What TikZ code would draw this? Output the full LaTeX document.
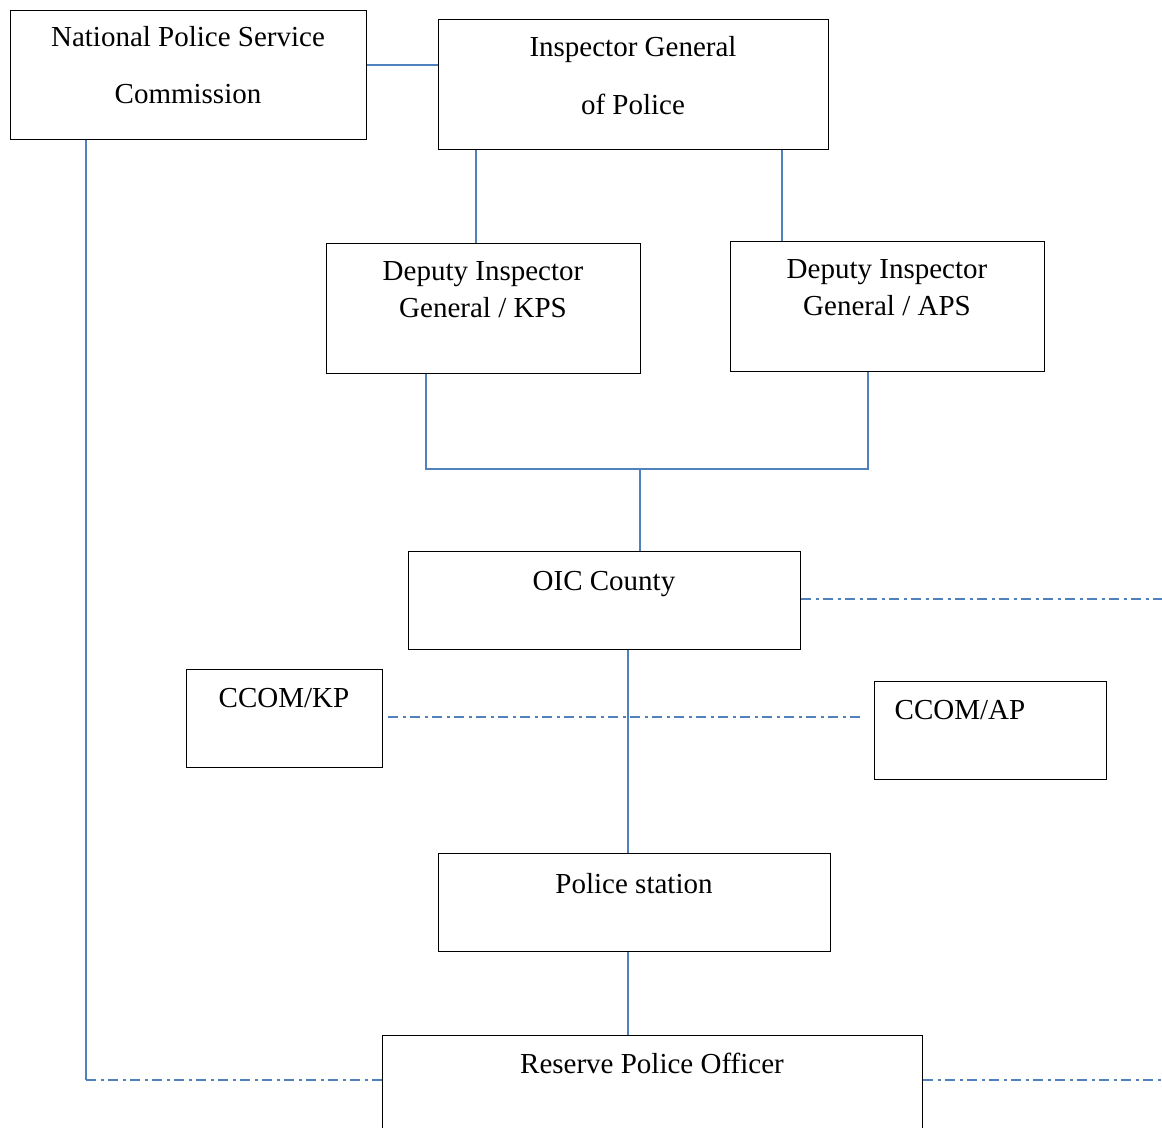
\documentclass[tikz,border=0pt]{standalone}
\usepackage{fontspec}
\setmainfont{Liberation Serif}
\begin{document}
\begin{tikzpicture}[x=0.5pt,y=-0.5pt,
  box/.style={draw=black,line width=0.6pt,fill=none,inner sep=0pt,anchor=north west},
  txt/.style={anchor=base,inner sep=0pt,font=\fontsize{14.5}{17}\selectfont},
  conn/.style={draw={rgb,255:red,79;green,129;blue,189},line width=0.75pt},
  dd/.style={conn,dash pattern=on 5pt off 2.25pt on 1.5pt off 2.25pt}]
\useasboundingbox (0,0) rectangle (1162,1128);
% boxes
\node[box,minimum width=178pt,minimum height=64.5pt] (npsc) at (10,10) {};
\node[box,minimum width=195pt,minimum height=65pt] (igp) at (438,19) {};
\node[box,minimum width=157pt,minimum height=65pt] (kps) at (326,243) {};
\node[box,minimum width=157pt,minimum height=65pt] (aps) at (730,241) {};
\node[box,minimum width=196pt,minimum height=49pt] (oic) at (408,551) {};
\node[box,minimum width=98pt,minimum height=49pt] (ckp) at (186,669) {};
\node[box,minimum width=116pt,minimum height=49pt] (cap) at (874,681) {};
\node[box,minimum width=196pt,minimum height=49pt] (ps) at (438,853) {};
\node[box,minimum width=270pt,minimum height=60pt] (rpo) at (382,1035) {};
% texts
\node[txt] (t1) at (188,47) {National Police Service};
\node[txt] (t2) at (188,104) {Commission};
\node[txt] (t3) at (633,57) {Inspector General};
\node[txt] (t4) at (633,115) {of Police};
\node[txt] (t5) at (483,281) {Deputy Inspector};
\node[txt] (t6) at (483,318) {General / KPS};
\node[txt] (t7) at (887,279) {Deputy Inspector};
\node[txt] (t8) at (887,316) {General / APS};
\node[txt] (t9) at (604,590) {OIC County};
\node[txt] (t10) at (284,707) {CCOM/KP};
\node[txt] (t11) at (960,719) {CCOM/AP};
\node[txt] (t12) at (634,893) {Police station};
\node[txt] (t13) at (652,1073) {Reserve Police Officer};
% coordinates
\coordinate (j1) at (426,469);
\coordinate (j2) at (868,469);
\coordinate (j3) at (640,469);
\coordinate (c1) at (86,1080);
\coordinate (e1) at (1162,599);
\coordinate (e2) at (1162,1080);
\coordinate (d1) at (388,717);
\coordinate (d2) at (864,717);
% solid connectors
\draw[conn] (npsc.east |- 0,65) -- (igp.west |- 0,65);
\draw[conn] (igp.south -| 476,0) -- (kps.north -| 476,0);
\draw[conn] (igp.south -| 782,0) -- (aps.north -| 782,0);
\draw[conn] (kps.south -| j1) -- (j1) -- (j2) -- (aps.south -| j2);
\draw[conn] (j3) -- (oic.north -| j3);
\draw[conn] (oic.south -| 628,0) -- (ps.north -| 628,0);
\draw[conn] (ps.south -| 628,0) -- (rpo.north -| 628,0);
\draw[conn] (npsc.south -| c1) -- (c1);
% dash-dot connectors
\draw[dd] (c1) -- (rpo.west |- c1);
\draw[dd] (rpo.east |- e2) -- (e2);
\draw[dd] (oic.east |- e1) -- (e1);
\draw[dd] (d1) -- (d2);
\end{tikzpicture}
\end{document}
